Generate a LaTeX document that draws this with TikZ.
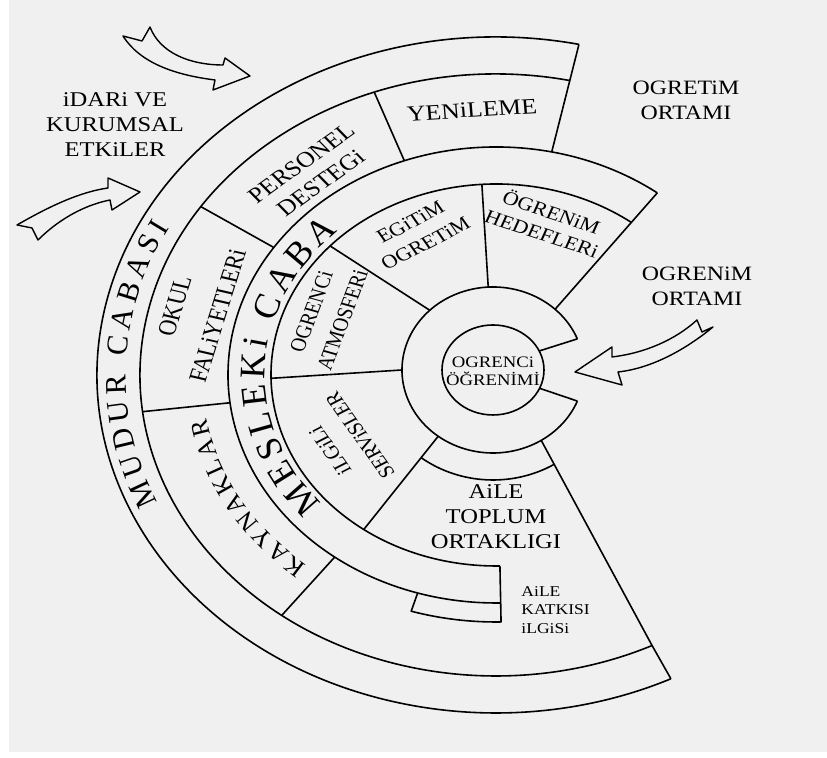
\documentclass[tikz,border=0pt]{standalone}
\usepackage{fontspec}
\setmainfont{Liberation Serif}
\usetikzlibrary{decorations.text}
\definecolor{paper}{RGB}{240,240,240}
\tikzset{
  wall/.style={line width=0.8pt, line join=round},
  flow/.style={line width=0.7pt, line join=round},
  lbl/.style={align=center, inner sep=0pt, xscale=1.17},
  bend text/.style={decorate, decoration={text along path, text align={fit to path}, text={#1}}},
}

\begin{document}
\begin{tikzpicture}[x=0.5pt, y=0.5pt]
\useasboundingbox (0,0) rectangle (827,758);
\fill[white] (0,0) rectangle (827,758);
\fill[paper] (9,6) rectangle (827,758);

% centre ring with the gap
\begin{scope}[shift={(493,388)}]
\draw[wall] (22:91 and 83) arc[start angle=22, end angle=338, x radius=91, y radius=83];
\draw[wall] (0,0) ellipse[x radius=51, y radius=45];
\draw[wall] (22:91 and 83) -- (25:51 and 45);
\draw[wall] (338:91 and 83) -- (336:51 and 45);
\draw[wall] (233:119 and 110) arc[start angle=233, end angle=301, x radius=119, y radius=110]; % aile toplum top
\foreach \a in {47,93,134,180,233,302}
  \coordinate (c\a) at (\a:91 and 83);
\end{scope}

% the fan
\begin{scope}[shift={(496,383)}]
\draw[wall] (78:399 and 338) arc[start angle=78, end angle=296, x radius=399, y radius=338];
\draw[wall] (78:356 and 301) arc[start angle=78, end angle=296, x radius=356, y radius=301];
\draw[wall] (78:399 and 338) -- (78:268 and 228);
\draw[wall] (296:399 and 338) -- (296:356 and 301) -- (c302);
\draw[wall] (53:268 and 228) arc[start angle=53, end angle=271, x radius=268, y radius=228];
\foreach \a in {110,146,187,233}
  \draw[wall] (\a:356 and 301) -- (\a:268 and 228);
\draw[wall] (53:225 and 191) arc[start angle=53, end angle=271, x radius=225, y radius=191];
\draw[wall] (271:268 and 228) -- (271:225 and 191);
\draw[wall] (53:268 and 228) -- (c47);
\draw[wall] (93.6:225 and 191) -- (c93);
\draw[wall] (137.5:225 and 191) -- (c134);
\draw[wall] (181:225 and 191) -- (c180);
\draw[wall] (234:225 and 191) -- (c233);
% aile katkisi box
\draw[wall] (253:268 and 228) -- (253:290 and 247) arc[start angle=253, end angle=271, x radius=290, y radius=247] -- (271:268 and 228);
% curved titles
\path[bend text={|\fontsize{15}{15}\selectfont|MUDUR CABASI}] (204:370 and 314) arc[start angle=204, end angle=152, x radius=370, y radius=314];
\path[bend text={|\fontsize{18}{18}\selectfont|MESLEKi CABA}] (221:231 and 196) arc[start angle=221, end angle=133, x radius=231, y radius=196];
\path[bend text={|\fontsize{12.5}{12.5}\selectfont|KAYNAKLAR}] (230:294 and 249) arc[start angle=230, end angle=190, x radius=294, y radius=249];
\end{scope}

% outside arrows
\draw[flow] (150,731) .. controls (160,705) and (190,693) .. (223,693) -- (225,700) -- (250,682) -- (213,668) -- (215,678) .. controls (175,683) and (140,695) .. (123,722) -- (142,717) -- cycle;
\draw[flow] (17,533) .. controls (50,552) and (80,566) .. (108,570) -- (108,580) -- (140,566) -- (112,548) -- (110,558) .. controls (80,552) and (55,535) .. (38,518) -- (32,530) -- cycle;
\draw[flow] (575,386) -- (612,411) -- (612,401) .. controls (645,405) and (675,418) .. (697,438) -- (702,426) -- (713,431) .. controls (690,412) and (655,390) .. (618,386) -- (622,373) -- cycle;

\node[lbl, font=\fontsize{10.5}{12.5}\selectfont] (idari) at (115,633) {iDARi VE\\KURUMSAL\\ETKiLER};
\node[lbl, font=\fontsize{10.2}{12.5}\selectfont] (ogretim) at (686,658) {OGRETiM\\ORTAMI};
\node[lbl, font=\fontsize{10.2}{12.5}\selectfont] (ogrenim) at (697,472) {OGRENiM\\ORTAMI};
\node[lbl, font=\fontsize{11}{13}\selectfont, rotate=4] (yenileme) at (472,648) {YENiLEME};
\node[lbl, font=\fontsize{11}{13}\selectfont, rotate=40] (personel) at (311,585) {PERSONEL\\DESTEGi};
\node[lbl, font=\fontsize{11}{19}\selectfont, rotate=75] (okul) at (196,447) {OKUL\\FALiYETLERi};
\node[lbl, font=\fontsize{9.5}{14}\selectfont, rotate=72] (atmosfer) at (327,442) {OGRENCi\\ATMOSFERi};
\node[lbl, font=\fontsize{9.5}{12.5}\selectfont, rotate=31] (egitim) at (418,525) {EGiTiM\\OGRETiM};
\node[lbl, font=\fontsize{9.5}{11.5}\selectfont, rotate=-21] (hedef) at (547,536) {ÖGRENiM\\HEDEFLERi};
\node[lbl, font=\fontsize{9.5}{15}\selectfont, rotate=121] (servis) at (345,315) {iLGiLi\\SERViSLER};
\node[lbl, font=\fontsize{10.5}{12.5}\selectfont] (toplum) at (496,241) {AiLE\\TOPLUM\\ORTAKLIGI};
\node[lbl, font=\fontsize{7.5}{9.3}\selectfont, anchor=west, align=left] (katki) at (521,148) {AiLE\\KATKISI\\iLGiSi};
\node[lbl, font=\fontsize{8}{9}\selectfont] (ogrenci) at (493,387) {OGRENCi\\ÖĞRENİMİ};
\end{tikzpicture}
\end{document}
